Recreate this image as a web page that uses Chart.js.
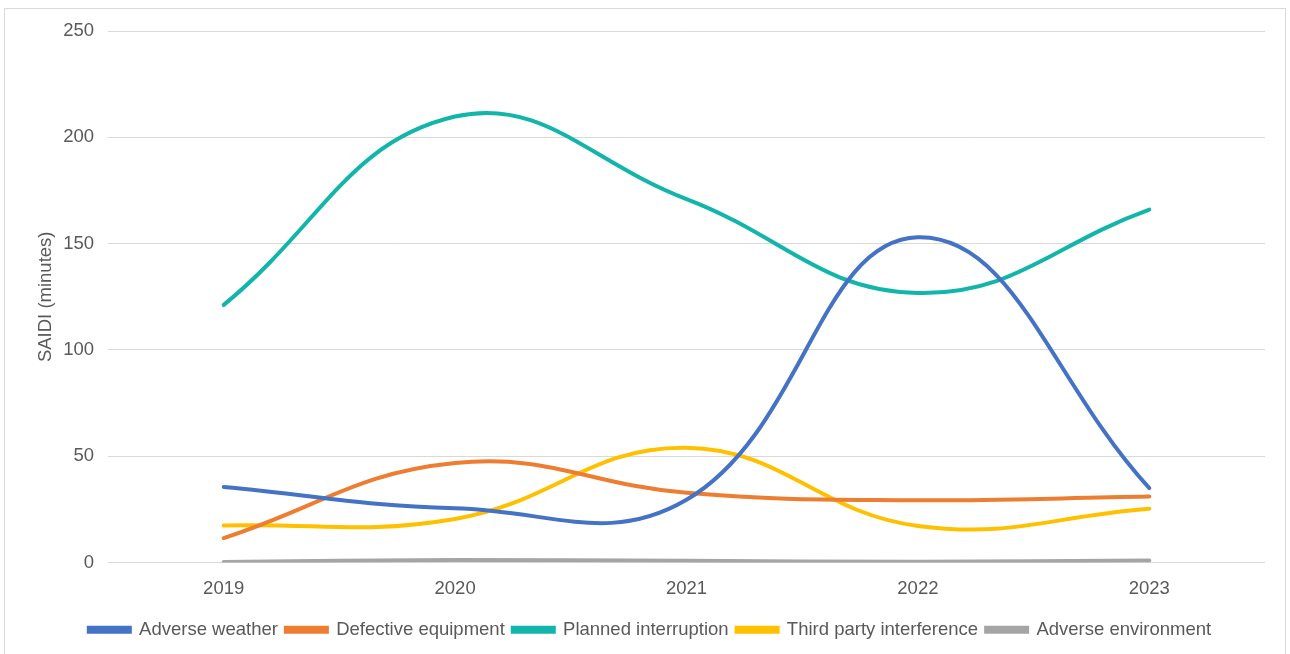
<!DOCTYPE html>
<html>
<head>
<meta charset="utf-8">
<script src="https://cdn.jsdelivr.net/npm/chart.js@4/dist/chart.umd.min.js"></script>
<style>
  html, body { margin: 0; padding: 0; background: #fff; overflow: hidden; }
  #box {
    position: absolute; left: 4px; top: 8px;
    width: 1280px; height: 660px;
    border: 1px solid #d9d9d9; background: #fff;
  }
  #wrap { position: absolute; left: 0; top: -3px; width: 1280px; height: 650px; }
</style>
</head>
<body>
<div id="box"><div id="wrap"><canvas id="myChart"></canvas></div></div>
<script>
// values
const years = ["2019", "2020", "2021", "2022", "2023"];
const adverseWeather = [35.5, 25.5, 29.5, 153, 35];
const defectiveEquipment = [11.5, 46.8, 32.8, 29.3, 31];
const plannedInterruption = [121.2, 209.8, 171, 126.8, 166];
const thirdParty = [17.4, 20.5, 54, 17.2, 25.3];
const adverseEnvironment = [0.2, 1.2, 0.8, 0.4, 0.9];
const yTicks = [0, 50, 100, 150, 200, 250];

const textColor = "#595959";
const fontFamily = "Arial, 'Liberation Sans', sans-serif";
const fontSize = 18.5;

function line(label, data, color) {
  return {
    label: label,
    data: data,
    borderColor: color,
    backgroundColor: color,
    borderWidth: 4,
    borderCapStyle: "round",
    pointRadius: 0,
    pointHoverRadius: 0,
    tension: 0.42,
    fill: false,
  };
}

new Chart("myChart", {
  type: "line",
  data: {
    labels: years,
    datasets: [
      line("Adverse weather", adverseWeather, "#4472C4"),
      line("Defective equipment", defectiveEquipment, "#ED7D31"),
      line("Planned interruption", plannedInterruption, "#12B5A9"),
      line("Third party interference", thirdParty, "#FFC000"),
      line("Adverse environment", adverseEnvironment, "#A5A5A5"),
    ],
  },
  options: {
    responsive: true,
    maintainAspectRatio: false,
    animation: false,
    layout: { padding: { left: 30, right: 20, top: 19, bottom: 7 } },
    plugins: {
      tooltip: { enabled: false },
      legend: {
        position: "bottom",
        labels: {
          color: textColor,
          font: { family: fontFamily, size: fontSize },
          boxWidth: 41,
          boxHeight: 4,
          padding: 8,
        },
      },
    },
    scales: {
      x: {
        offset: true,
        grid: { display: false },
        border: { display: false },
        ticks: {
          color: textColor,
          font: { family: fontFamily, size: fontSize },
          padding: 7,
        },
        afterFit: (scale) => { scale.height = 50; },
      },
      y: {
        min: 0,
        max: 250,
        afterBuildTicks: (scale) => {
          scale.ticks = yTicks.map((v) => ({ value: v }));
        },
        grid: { color: "#d9d9d9", lineWidth: 1, drawTicks: false },
        border: { display: false },
        ticks: {
          color: textColor,
          font: { family: fontFamily, size: fontSize },
          padding: 14,
        },
        title: {
          display: true,
          text: "SAIDI (minutes)",
          color: textColor,
          font: { family: fontFamily, size: fontSize },
          padding: { top: 0, bottom: 0 },
        },
        afterFit: (scale) => { scale.width = 73; },
      },
    },
  },
});
</script>
</body>
</html>
